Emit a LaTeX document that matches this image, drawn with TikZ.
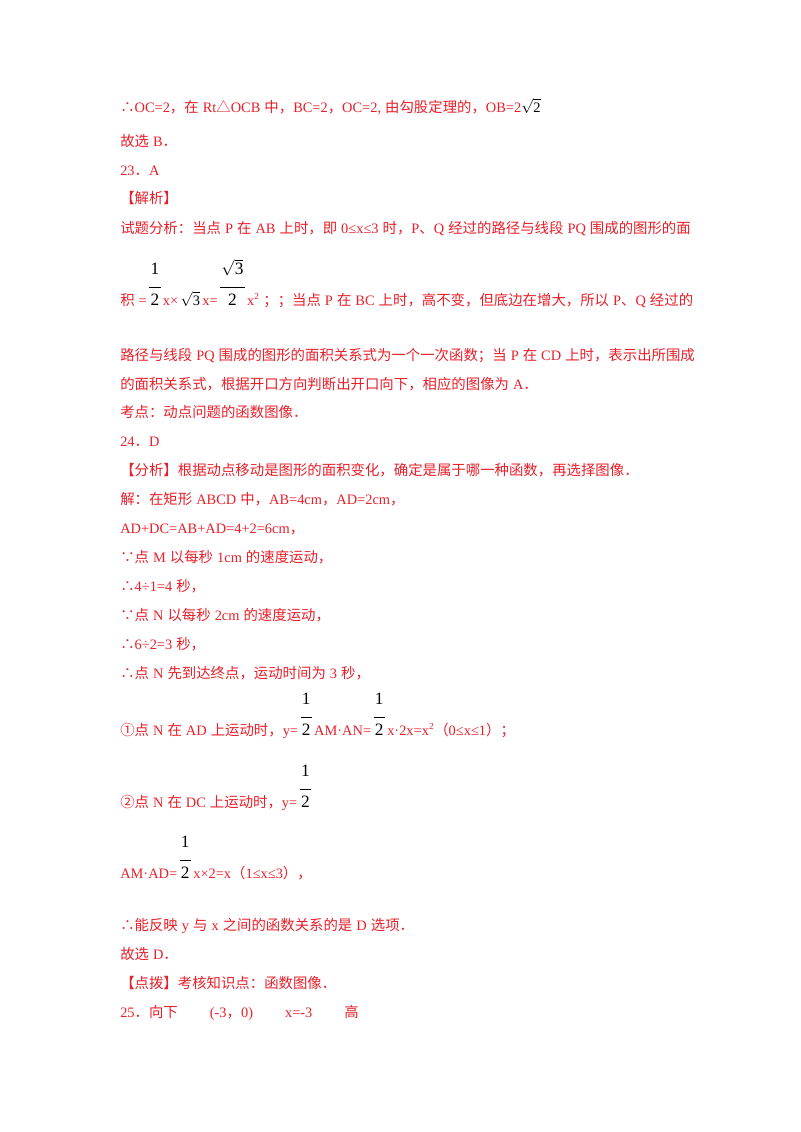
\documentclass[tikz,border=0pt]{standalone}
\usepackage{fontspec}
\setmainfont{Liberation Serif}
\newfontfamily\cjk{Noto Sans CJK SC}
\XeTeXinterchartokenstate=1
\newXeTeXintercharclass\cjkclass
\newXeTeXintercharclass\pclass
\newcount\cc
\def\setrange#1#2#3{\cc=#1 \loop\XeTeXcharclass\cc=#3\advance\cc1 \ifnum\cc<#2\repeat}
\setrange{"4E00}{"A000}{\cjkclass}
\setrange{"3000}{"3040}{\pclass}
\setrange{"FF00}{"FFF0}{\pclass}
\setrange{"2460}{"2470}{\pclass}
\XeTeXcharclass"2234=\pclass
\XeTeXcharclass"2235=\pclass
\XeTeXcharclass"25B3=\pclass
\XeTeXinterchartoks 0 \cjkclass={\hskip0.28em\begingroup\cjk}
\XeTeXinterchartoks 4095 \cjkclass={\begingroup\cjk}
\XeTeXinterchartoks \cjkclass 0={\endgroup\hskip0.28em}
\XeTeXinterchartoks \cjkclass 4095={\endgroup}
\XeTeXinterchartoks 0 \pclass={\begingroup\cjk}
\XeTeXinterchartoks 4095 \pclass={\begingroup\cjk}
\XeTeXinterchartoks \pclass 0={\endgroup}
\XeTeXinterchartoks \pclass 4095={\endgroup}
\XeTeXinterchartoks \pclass \cjkclass={}
\XeTeXinterchartoks \cjkclass \pclass={}
\definecolor{ered}{RGB}{232,32,42}
\newcommand\fr[2]{\,\textcolor{black}{\fontsize{13pt}{15pt}\selectfont\begin{tabular}[b]{@{\hspace{1pt}}c@{\hspace{1pt}}}#1\\[5pt]\hline\rule{0pt}{13pt}#2\end{tabular}}\,}
\newcommand\sq[1]{\textcolor{black}{$\sqrt{\mbox{#1}}$}}
\begin{document}
\begin{tikzpicture}[x=0.75pt,y=-0.75pt,
  ln/.style={anchor=base west,inner sep=0pt,text=ered,font=\fontsize{10.8pt}{13pt}\selectfont}]
\useasboundingbox[fill=white] (0,0) rectangle (800,1132);
\node[ln] (l1) at (120,112) {∴OC=2，在Rt△OCB中，BC=2，OC=2,由勾股定理的，OB=2\sq{2}};
\node[ln] (l2) at (120,146) {故选B．};
\node[ln] (l3) at (120,175) {23．A};
\node[ln] (l4) at (120,203) {【解析】};
\node[ln] (l5) at (120,233) {试题分析：当点P在AB上时，即0≤x≤3时，P、Q经过的路径与线段PQ围成的图形的面};
\node[ln] (l6) at (120,305) {积=\fr{1}{2}x×\,\sq{3}\,x=\fr{\sq{3}}{2}x$^{\mbox{\scriptsize 2}}$\ ；；当点P在BC上时，高不变，但底边在增大，所以P、Q经过的};
\node[ln] (l7) at (120,360) {路径与线段PQ围成的图形的面积关系式为一个一次函数；当P在CD上时，表示出所围成};
\node[ln] (l8) at (120,389) {的面积关系式，根据开口方向判断出开口向下，相应的图像为A．};
\node[ln] (l9) at (120,417) {考点：动点问题的函数图像．};
\node[ln] (l10) at (120,446) {24．D};
\node[ln] (l11) at (120,475) {【分析】根据动点移动是图形的面积变化，确定是属于哪一种函数，再选择图像．};
\node[ln] (l12) at (120,504) {解：在矩形ABCD中，AB=4cm，AD=2cm，};
\node[ln] (l13) at (120,533) {AD+DC=AB+AD=4+2=6cm，};
\node[ln] (l14) at (120,562) {∵点M以每秒1cm的速度运动，};
\node[ln] (l15) at (120,591) {∴4÷1=4秒，};
\node[ln] (l16) at (120,620) {∵点N以每秒2cm的速度运动，};
\node[ln] (l17) at (120,649) {∴6÷2=3秒，};
\node[ln] (l18) at (120,678) {∴点N先到达终点，运动时间为3秒，};
\node[ln] (l19) at (120,735) {①点N在AD上运动时，y=\fr{1}{2}AM·AN=\fr{1}{2}x·2x=x$^{\mbox{\scriptsize 2}}$（0≤x≤1）；};
\node[ln] (l20) at (120,807) {②点N在DC上运动时，y=\fr{1}{2}};
\node[ln] (l21) at (120,878) {AM·AD=\fr{1}{2}x×2=x（1≤x≤3），};
\node[ln] (l22) at (120,930) {∴能反映y与x之间的函数关系的是D选项．};
\node[ln] (l23) at (120,959) {故选D．};
\node[ln] (l24) at (120,988) {【点拨】考核知识点：函数图像．};
\node[ln] (l25) at (120,1017) {25．向下\hspace{24pt}(-3，0)\hspace{24pt}x=-3\hspace{24pt}高};
\end{tikzpicture}
\end{document}
